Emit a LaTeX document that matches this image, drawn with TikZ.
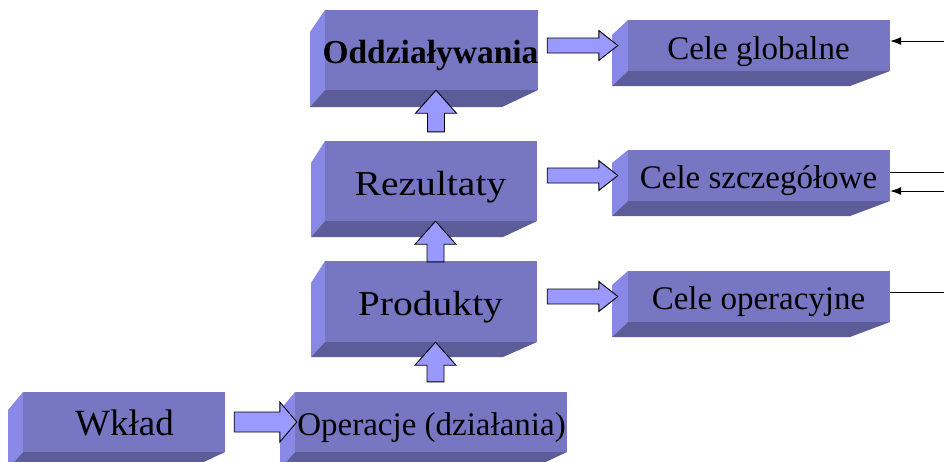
\documentclass[tikz,border=0pt]{standalone}
\usepackage{fontspec}
\setmainfont{Liberation Serif}
\usetikzlibrary{calc,fit,arrows.meta}

\definecolor{frontc}{RGB}{118,118,194}
\definecolor{sidec}{RGB}{136,136,230}
\definecolor{basec}{RGB}{92,92,152}
\definecolor{blockc}{RGB}{153,153,255}

\tikzset{
  face/.style={fill=frontc, draw=none, inner sep=0pt},
  blockarrow/.style={fill=blockc, draw=black, line width=0.9pt, line join=miter},
  thinlink/.style={draw=black, line width=0.9pt},
  intip/.style={-{Latex[length=11pt,width=8pt]}},
  lbl/.style={anchor=base, inner sep=0pt, text=black},
}

% 3D slab: name, front left, top, right, bottom, side x, side corner y, base y, base right x
\newcommand\slab[9]{%
  \fill[sidec] (#2,#3) -- (#6,#7) -- (#6,#8) -- (#2,#5) -- cycle;
  \fill[basec] (#2,#5) -- (#4,#5) -- (#9,#8) -- (#6,#8) -- cycle;
  \node[face, fit={(#2,#3) (#4,#5)}] (#1) {};
}

% horizontal block arrow: from, to, tail gap, tip shift, shaft half, head half, head length
\newcommand\rightblock[7]{%
  \draw[blockarrow] let \p1=(#1.east), \p2=($(#2.west)+(#4,0)$) in
    (\x1+#3pt,\y2+#5pt) -- (\x2-#7pt,\y2+#5pt) -- (\x2-#7pt,\y2+#6pt) -- (\x2,\y2)
    -- (\x2-#7pt,\y2-#6pt) -- (\x2-#7pt,\y2-#5pt) -- (\x1+#3pt,\y2-#5pt) -- cycle;
}

% vertical block arrow: lower node, upper node, gap above lower node
\newcommand\upblock[3]{%
  \draw[blockarrow] let \p1=($(#2.south)+(4.5,0)$), \p2=(#1.north) in
    (\x1,\y1) -- (\x1+20.5pt,\y1-23pt) -- (\x1+8.5pt,\y1-23pt) -- (\x1+8.5pt,\y2+#3pt)
    -- (\x1-8.5pt,\y2+#3pt) -- (\x1-8.5pt,\y1-23pt) -- (\x1-20.5pt,\y1-23pt) -- cycle;
}

\begin{document}
\begin{tikzpicture}[x=1pt, y=-1pt]
  \path[use as bounding box, clip] (0,0) rectangle (944,461);

  % slabs of the chain
  \slab{odd}{325}{10}{538}{90}{310}{32}{107}{502}
  \slab{rez}{325}{141}{537}{221}{311}{163}{237}{503}
  \slab{prod}{325}{261}{537}{342}{311}{283}{357}{503}
  \slab{wk}{23}{392}{225}{452}{8}{410}{469}{189}
  \slab{ope}{295}{392}{567}{452}{280}{410}{469}{531}

  % slabs of the objectives
  \slab{cg}{628}{20}{890}{71}{612}{35}{86}{850}
  \slab{cs}{628}{150}{890}{201}{612}{163}{216}{850}
  \slab{co}{628}{271}{890}{322}{612}{285}{337}{850}

  % block arrows
  \upblock{rez}{odd}{9}
  \upblock{prod}{rez}{-1}
  \upblock{ope}{prod}{10}
  \rightblock{wk}{ope}{9}{2}{10}{20}{17}
  \rightblock{odd}{cg}{9}{-10}{7.5}{15}{19}
  \rightblock{rez}{cs}{10}{-10}{7.5}{15}{19}
  \rightblock{prod}{co}{10}{-10}{7.5}{15}{19}

  % labels
  \node[lbl] (t-odd) at (430.5,63) {\fontsize{33.5}{40}\selectfont\bfseries Oddziaływania};
  \node[lbl] (t-rez) at (430.5,195) {\fontsize{35}{40}\selectfont\scalebox{1.13}[1]{Rezultaty}};
  \node[lbl] (t-prod) at (430.5,315) {\fontsize{35}{40}\selectfont\scalebox{1.13}[1]{Produkty}};
  \node[lbl] (t-wk) at (124.5,435) {\fontsize{37}{40}\selectfont Wkład};
  \node[lbl] (t-ope) at (431.5,435) {\fontsize{33}{40}\selectfont Operacje (działania)};
  \node[lbl] (t-cg) at (758.5,59) {\fontsize{33}{40}\selectfont Cele globalne};
  \node[lbl] (t-cs) at (758.5,188) {\fontsize{33}{40}\selectfont Cele szczegółowe};
  \node[lbl] (t-co) at (758.5,309) {\fontsize{33}{40}\selectfont Cele operacyjne};

  % links to the right
  \coordinate (g-in) at (944,41);
  \coordinate (s-out) at (944,172);
  \coordinate (s-in) at (944,191);
  \coordinate (o-out) at (944,292);
  \draw[thinlink, intip] (g-in) -- (g-in -| cg.east);
  \draw[thinlink] (s-out -| cs.east) -- (s-out);
  \draw[thinlink, intip] (s-in) -- (s-in -| cs.east);
  \draw[thinlink] (o-out -| co.east) -- (o-out);
\end{tikzpicture}
\end{document}
